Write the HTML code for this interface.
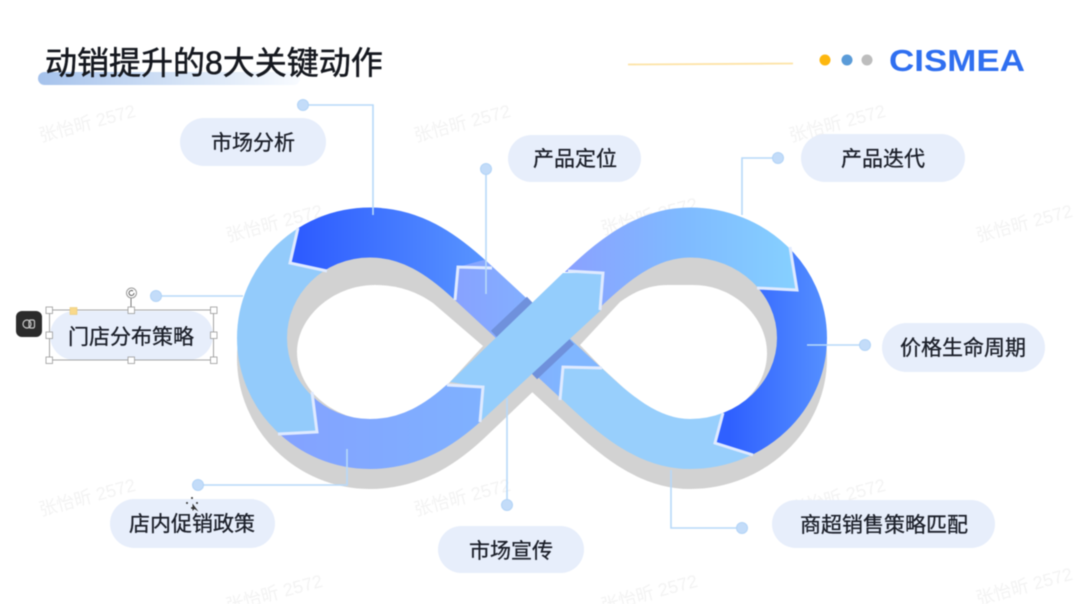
<!DOCTYPE html>
<html><head><meta charset="utf-8">
<style>
html,body{margin:0;padding:0;background:#fff;width:1080px;height:604px;overflow:hidden}
svg{display:block;filter:blur(.4px)}
text{font-family:"Liberation Sans","Noto Sans CJK SC",sans-serif}
.p{fill:#e7eefb}
.t{font-size:21px;fill:#1a1e28;stroke:#1a1e28;stroke-width:.3;text-anchor:middle}
.w{font-size:18px;fill:#f3f3f3}
.c{fill:none;stroke:#b7d9f9;stroke-width:1.6}
.d{fill:#c3dcf9;stroke:#b3d4f7;stroke-width:1}
.v{fill:none;stroke:#dfeaff;stroke-width:3;stroke-linejoin:miter}
.r{fill:none;stroke-width:50;stroke-linecap:butt}
.h{fill:#fff;stroke:#9a9a9a;stroke-width:.8}
</style></head><body>
<svg width="1080" height="604" viewBox="0 0 1080 604" xmlns="http://www.w3.org/2000/svg">
<defs>
<linearGradient id="bar" x1="0" x2="1" y1="0" y2="0"><stop offset="0" stop-color="#a5c2ec"/><stop offset=".55" stop-color="#d5e3f6"/><stop offset="1" stop-color="#f8fbff"/></linearGradient>
<linearGradient id="dk1" gradientUnits="userSpaceOnUse" x1="300" x2="480" y1="0" y2="0"><stop offset="0" stop-color="#2e5cff"/><stop offset="1" stop-color="#5793ff"/></linearGradient>
<linearGradient id="dk2" gradientUnits="userSpaceOnUse" x1="730" x2="828" y1="0" y2="0"><stop offset="0" stop-color="#2f60ff"/><stop offset="1" stop-color="#5590ff"/></linearGradient>
<linearGradient id="pw" gradientUnits="userSpaceOnUse" x1="280" x2="480" y1="0" y2="0"><stop offset="0" stop-color="#84a2ff"/><stop offset="1" stop-color="#7fb1ff"/></linearGradient>
<linearGradient id="ur" gradientUnits="userSpaceOnUse" x1="570" x2="795" y1="0" y2="0"><stop offset="0" stop-color="#8aa2ff"/><stop offset=".5" stop-color="#7fbaff"/><stop offset="1" stop-color="#86d0ff"/></linearGradient>
<linearGradient id="ds" gradientUnits="userSpaceOnUse" x1="455" x2="565" y1="0" y2="0"><stop offset="0" stop-color="#88a2ff"/><stop offset="1" stop-color="#80b6ff"/></linearGradient>
<clipPath id="c1"><polygon points="200,190 300,190 298,228 290,263 335,273 345,340 312,385 317,432 278,433 260,490 200,490"/></clipPath>
<clipPath id="c2"><polygon points="298,190 298,228 290,263 327,271 400,330 455,302 458,267 492,267 520,190"/></clipPath>
<clipPath id="c3"><polygon points="458,267 520,250 620,360 602,368 563,367 560,402 455,302"/></clipPath>
<clipPath id="c4"><polygon points="563,367 602,368 640,350 723,400 723,413 715,443 753,455 760,490 540,490 560,400"/></clipPath>
<clipPath id="c5"><polygon points="790,190 790,247 797,290 757,288 730,340 723,413 715,443 753,455 850,480 850,190"/></clipPath>
<clipPath id="c6"><polygon points="565,272 603,273 600,312 700,330 757,288 797,290 790,247 790,190 560,190"/></clipPath>
<clipPath id="c8"><polygon points="312,385 317,432 278,433 260,490 510,490 481,421 483,387 447,385 420,370"/></clipPath>
</defs>

<rect width="1080" height="604" fill="#fff"/>

<!-- watermarks -->
<g class="w">
<text class="w" transform="translate(41,142) rotate(-15)">张怡昕 2572</text>
<text class="w" transform="translate(416,142) rotate(-15)">张怡昕 2572</text>
<text class="w" transform="translate(791,142) rotate(-15)">张怡昕 2572</text>
<text class="w" transform="translate(228,242) rotate(-15)">张怡昕 2572</text>
<text class="w" transform="translate(603,235) rotate(-15)">张怡昕 2572</text>
<text class="w" transform="translate(978,242) rotate(-15)">张怡昕 2572</text>
<text class="w" transform="translate(41,516) rotate(-15)">张怡昕 2572</text>
<text class="w" transform="translate(416,516) rotate(-15)">张怡昕 2572</text>
<text class="w" transform="translate(791,516) rotate(-15)">张怡昕 2572</text>
<text class="w" transform="translate(228,612) rotate(-15)">张怡昕 2572</text>
<text class="w" transform="translate(603,612) rotate(-15)">张怡昕 2572</text>
<text class="w" transform="translate(978,605) rotate(-15)">张怡昕 2572</text>
</g>

<!-- title -->
<rect x="38" y="72" width="262" height="13" rx="6.5" fill="url(#bar)"/>
<text x="45" y="74" font-size="32" fill="#15181f" stroke="#15181f" stroke-width=".5">动销提升的8大关键动作</text>

<!-- header right -->
<line x1="628" y1="64.5" x2="793" y2="63.5" stroke="#fde3a6" stroke-width="1.8"/>
<circle cx="825" cy="60" r="5.5" fill="#fdb70f"/>
<circle cx="847" cy="60" r="5.5" fill="#5a9bd8"/>
<circle cx="867" cy="60" r="5.5" fill="#bdbdbd"/>
<text x="889" y="71" font-size="31" font-weight="bold" fill="#2f6ff0" textLength="136" lengthAdjust="spacingAndGlyphs">CISMEA</text>

<!-- shadow -->
<g transform="translate(0,20)">
<path id="full" d="M532 338 L471 281 C441 253 410 232.5 370 232.5 C310 232.5 262 280 262 338 C262 396 310 444 370 444 C410 444 440 425 466 401 L532 338 L580 292 C610 263 645 232.5 690 232.5 C752 232.5 802 280 802 338 C802 396 752 444 690 444 C645 444 610 410 581 383 Z" fill="#d2d2d2" stroke="#d2d2d2" stroke-width="50" stroke-linejoin="round"/>
</g>
<!-- holes -->
<path d="M483 346 L433 303 C416 291 397 285 375 285 C332 285 297 318 297 352 C297 365 302 380 312 392 C326 408 348 420 373 420 C393 420 410 415 422 406 L450 382 Z" fill="#fff"/>
<path d="M580 345 L620 302 C635 291 650 285 668 285 L693 285 C735 285 767 318 767 353 C767 375 755 395 737 407 C723 416 705 420 690 420 C670 420 652 412 640 403 L602 368 Z" fill="#fff"/>

<!-- ribbon segments -->
<path class="r" clip-path="url(#c1)" stroke="#93cbfb" d="M370 232.5 C310 232.5 262 280 262 338 C262 396 310 444 370 444"/>
<path class="r" clip-path="url(#c2)" stroke="url(#dk1)" d="M471 281 C441 253 410 232.5 370 232.5 C310 232.5 262 280 262 338"/>
<path class="r" clip-path="url(#c3)" stroke="url(#ds)" d="M440 252 L596 397"/>
<path class="r" clip-path="url(#c8)" stroke="url(#pw)" d="M262 338 C262 396 310 444 370 444 C410 444 440 425 466 401 L490 378"/>
<path class="r" clip-path="url(#c4)" stroke="#98cffc" d="M802 338 C802 396 752 444 690 444 C645 444 610 410 581 383 L560 363"/>
<path class="r" clip-path="url(#c5)" stroke="url(#dk2)" d="M690 232.5 C752 232.5 802 280 802 338 C802 396 752 444 690 444"/>
<path class="r" clip-path="url(#c6)" stroke="url(#ur)" d="M560 311 L580 292 C610 263 645 232.5 690 232.5 C752 232.5 802 280 802 338"/>
<line x1="494" y1="334" x2="530" y2="300" stroke="#6f91dc" stroke-width="9"/>
<line x1="534" y1="376" x2="571" y2="341" stroke="#6f91dc" stroke-width="9"/>
<polygon points="450,382 483,387 481,421 600,311 603,273 563,273" fill="#94cdfc"/>

<!-- chevrons -->
<polyline class="v" points="298,228 290,263 327,271"/>
<polyline class="v" points="312,392 317,432 278,434"/>
<polyline class="v" points="447,385 483,387 480,422"/>
<polyline class="v" points="568,271 603,273 600,310"/>
<polyline class="v" points="790,247 797,290 757,288"/>
<polyline class="v" points="723,413 715,443 753,455"/>
<polyline class="v" points="602,368 563,367 560,400"/>
<polyline class="v" points="492,268 458,267 455,300"/>

<!-- connectors -->
<polyline class="c" points="303,105 373,105 373,215"/>
<polyline class="c" points="486,169 486,294"/>
<polyline class="c" points="778,158 742,158 742,215"/>
<polyline class="c" points="865,345 807,345"/>
<polyline class="c" points="742,528 671,528 671,470"/>
<polyline class="c" points="507,505 507,398"/>
<polyline class="c" points="198,485 347,485 347,449"/>
<polyline class="c" points="156,296 243,296"/>
<circle class="d" cx="303" cy="105" r="5.5"/>
<circle class="d" cx="486" cy="169" r="5.5"/>
<circle class="d" cx="778" cy="158" r="5.5"/>
<circle class="d" cx="865" cy="345" r="5.5"/>
<circle class="d" cx="742" cy="528" r="5.5"/>
<circle class="d" cx="507" cy="505" r="5.5"/>
<circle class="d" cx="198" cy="485" r="5.5"/>
<circle class="d" cx="156" cy="296" r="5.5"/>

<!-- pills -->
<rect class="p" x="180" y="118" width="146" height="48" rx="24"/>
<text class="t" x="253" y="150">市场分析</text>
<rect class="p" x="508" y="135" width="133" height="47" rx="23.5"/>
<text class="t" x="575" y="166">产品定位</text>
<rect class="p" x="801" y="134" width="164" height="48" rx="24"/>
<text class="t" x="883" y="166">产品迭代</text>
<rect class="p" x="882" y="323" width="163" height="49" rx="24.5"/>
<text class="t" x="963" y="355">价格生命周期</text>
<rect class="p" x="772" y="500" width="223" height="48" rx="24"/>
<text class="t" x="884" y="532">商超销售策略匹配</text>
<rect class="p" x="438" y="526" width="146" height="47" rx="23.5"/>
<text class="t" x="511" y="558">市场宣传</text>
<rect class="p" x="110" y="499" width="165" height="49" rx="24.5"/>
<text class="t" x="192" y="531">店内促销政策</text>
<rect class="p" x="50" y="311" width="163" height="49" rx="24.5"/>
<text class="t" x="131" y="344">门店分布策略</text>

<!-- selection -->
<rect x="49.500" y="310" width="164" height="50" fill="none" stroke="#a5a5a5" stroke-width="1"/>
<line x1="131" y1="297" x2="131" y2="310" stroke="#777" stroke-width="1"/>
<circle cx="131.500" cy="293" r="5" fill="#fff" stroke="#999" stroke-width="1"/>
<path d="M134 293 a2.500 2.500 0 1 1 -1 -2" fill="none" stroke="#555" stroke-width=".9"/>
<rect class="h" x="46" y="307" width="6.500" height="6.500"/>
<rect class="h" x="128" y="307" width="6.500" height="6.500"/>
<rect class="h" x="210.500" y="307" width="6.500" height="6.500"/>
<rect class="h" x="46" y="332" width="6.500" height="6.500"/>
<rect class="h" x="210.500" y="332" width="6.500" height="6.500"/>
<rect class="h" x="46" y="357" width="6.500" height="6.500"/>
<rect class="h" x="128" y="357" width="6.500" height="6.500"/>
<rect class="h" x="210.500" y="357" width="6.500" height="6.500"/>
<rect x="70" y="307.500" width="7" height="7" fill="#f9d98a" stroke="#e8c878" stroke-width=".6"/>

<!-- floating icon -->
<rect x="16" y="311" width="26" height="26" rx="6" fill="#2b2b2b"/>
<circle cx="27" cy="324" r="4" fill="none" stroke="#c8c8c8" stroke-width="1.200"/>
<rect x="29" y="320" width="5.500" height="8" rx="1.500" fill="none" stroke="#c8c8c8" stroke-width="1.200"/>

<!-- cursor -->
<g fill="#333">
<circle cx="192" cy="498" r="1"/><circle cx="192" cy="508" r="1"/><circle cx="187" cy="503" r="1"/><circle cx="197" cy="503" r="1"/>
<path d="M192.500 503.500 L192.500 511 L194.500 509 L198.500 511.500 Z"/>
</g>
</svg>
</body></html>
